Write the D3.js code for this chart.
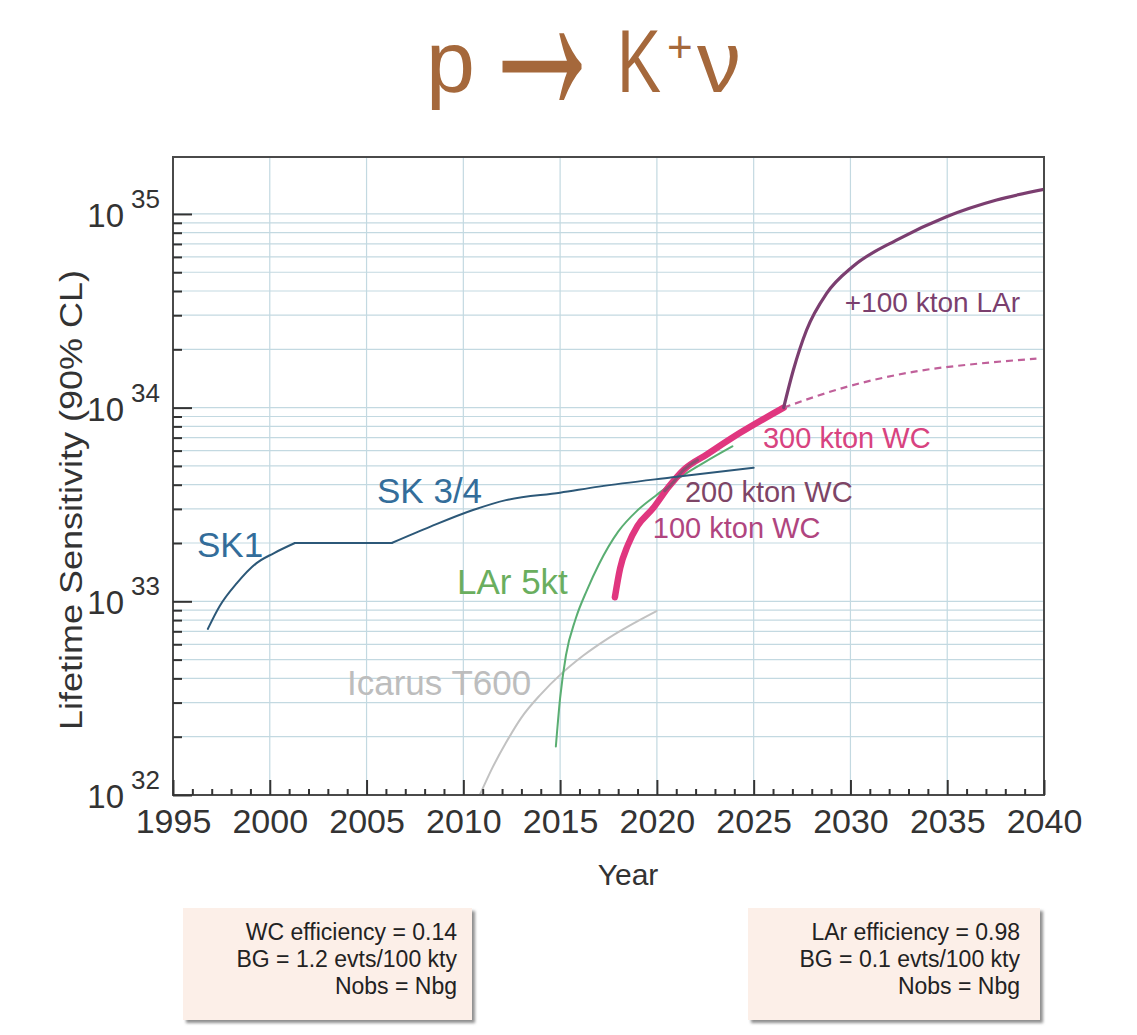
<!DOCTYPE html>
<html><head><meta charset="utf-8">
<script src="https://cdn.jsdelivr.net/npm/d3@7"></script>
<style>body{margin:0;background:#fff}</style>
</head><body>
<svg id="c" width="1137" height="1035"></svg>
<script>
// ---------------- DATA ----------------
const sk1Years   = [1996.8, 1997.4, 1998.3, 1999.3, 2000.2, 2001.3];
const sk1Values  = [7.2e32, 9.4e32, 1.24e33, 1.57e33, 1.77e33, 2.0e33];
const skFlatYears  = [2001.3, 2006.3];
const skFlatValues = [2.0e33, 2.0e33];
const sk34Years  = [2006.3, 2008.3, 2010.5, 2012.2, 2015.0, 2017.0, 2020.8, 2025.0];
const sk34Values = [2.0e33, 2.43e33, 2.96e33, 3.33e33, 3.64e33, 3.91e33, 4.37e33, 4.90e33];

const lar5Years  = [2014.78, 2015.0, 2015.3, 2015.8, 2016.4, 2017.0, 2018.0, 2019.0, 2020.0, 2021.2, 2022.5, 2023.9];
const lar5Values = [1.78e32, 3.16e32, 5.25e32, 8.1e32, 1.15e33, 1.55e33, 2.29e33, 2.95e33, 3.55e33, 4.37e33, 5.25e33, 6.31e33];

const icarusYears  = [2010.85, 2011.5, 2012.2, 2013.0, 2014.0, 2015.0, 2016.2, 2017.5, 2019.98];
const icarusValues = [1.0e32, 1.38e32, 1.86e32, 2.51e32, 3.31e32, 4.17e32, 5.25e32, 6.46e32, 8.91e32];

const wcYears  = [2017.83, 2018.1, 2018.5, 2019.0, 2019.8, 2020.6, 2021.4, 2022.6, 2024.3, 2026.55];
const wcValues = [1.05e33, 1.48e33, 1.95e33, 2.45e33, 3.02e33, 3.89e33, 4.79e33, 5.75e33, 7.41e33, 1.0e34];

const wc200Years  = [2020.4, 2020.8, 2021.4, 2022.1];
const wc200Values = [3.72e33, 4.07e33, 4.79e33, 5.37e33];

const lar100Years  = [2026.55, 2027.04, 2027.73, 2028.77, 2030.14, 2032.38, 2034.96, 2037.55, 2040.0];
const lar100Values = [1.0e34, 1.55e34, 2.51e34, 3.89e34, 5.37e34, 7.33e34, 9.68e34, 1.18e35, 1.34e35];

const wcOnlyYears  = [2026.55, 2029.8, 2033.24, 2036.68, 2039.61];
const wcOnlyValues = [1.0e34, 1.28e34, 1.53e34, 1.69e34, 1.79e34];

const xTickYears = [1995, 2000, 2005, 2010, 2015, 2020, 2025, 2030, 2035, 2040];
const yDecades   = [32, 33, 34, 35];

const labelText  = ["SK1", "SK 3/4", "LAr 5kt", "Icarus T600", "300 kton WC", "200 kton WC", "100 kton WC", "+100 kton LAr"];
const labelYear  = [1996.24, 2005.54, 2009.67, 2003.99, 2025.48, 2021.45, 2019.79, 2029.71];
const labelValue = [1.69e33, 3.21e33, 1.09e33, 3.28e32, 6.18e33, 3.26e33, 2.12e33, 3.12e34];

const boxLeftLines  = ["WC efficiency = 0.14", "BG = 1.2 evts/100 kty", "Nobs = Nbg"];
const boxRightLines = ["LAr efficiency = 0.98", "BG = 0.1 evts/100 kty", "Nobs = Nbg"];

// ---------------- LAYOUT ----------------
const FONT = "'Liberation Sans', Arial, Helvetica, sans-serif";
const svg = d3.select("#c");
const L = 173, R = 1044, T = 157, B = 795;
const x = d3.scaleLinear().domain([1995, 2040]).range([L, R]);
const y = d3.scaleLog().domain([1e32, Math.pow(10, 35.294)]).range([B, T]);

const defs = svg.append("defs");
defs.append("clipPath").attr("id", "clip")
  .append("rect").attr("x", L).attr("y", T).attr("width", R - L).attr("height", B - T);
defs.append("filter").attr("id", "sh").attr("x", "-10%").attr("y", "-10%").attr("width", "130%").attr("height", "130%")
  .append("feGaussianBlur").attr("stdDeviation", 1.6);

// Title
const tcol = "#a5683b";
const title = svg.append("g").attr("fill", tcol).attr("font-family", FONT);
title.append("text").attr("x", 426).attr("y", 92).attr("font-size", 88).text("p");
// arrow glyph is symmetric about its shaft: drawn mirrored so its line box hangs downward
title.append("text").attr("transform", "translate(542,63) scale(0.89,-1.9)").attr("y", 23)
  .attr("font-size", 150).attr("text-anchor", "middle").text("→");
title.append("text").attr("transform", "translate(617,92) scale(0.75,1)").attr("font-size", 88).text("K");
title.append("text").attr("x", 667).attr("y", 62).attr("font-size", 44).text("+");
title.append("text").attr("x", 697).attr("y", 92).attr("font-size", 88).text("ν");

// Grid
const gridVals = [];
for (let e = 32; e <= 34; e++) for (let k = 1; k <= 9; k++) gridVals.push(k * Math.pow(10, e));
gridVals.push(1e35);
const grid = svg.append("g");
grid.selectAll("line.h").data(gridVals.filter(v => v > 1e32)).join("line")
  .attr("x1", L).attr("x2", R).attr("y1", d => y(d)).attr("y2", d => y(d))
  .attr("stroke", "#c3d9e1").attr("stroke-width", 1.2);
grid.selectAll("line.v").data(xTickYears.filter(v => v > 1995 && v < 2040)).join("line")
  .attr("y1", T).attr("y2", B).attr("x1", d => x(d)).attr("x2", d => x(d))
  .attr("stroke", "#c3d9e1").attr("stroke-width", 1.2);

// Curves
const line = d3.line().x(d => x(d[0])).y(d => y(d[1])).curve(d3.curveMonotoneX);
const zip = (a, b) => a.map((v, i) => [v, b[i]]);
const curves = svg.append("g").attr("clip-path", "url(#clip)").attr("fill", "none").attr("stroke-linecap", "round").attr("stroke-linejoin", "round");
curves.append("path").attr("d", line(zip(icarusYears, icarusValues))).attr("stroke", "#c2c2c2").attr("stroke-width", 2);
curves.append("path").attr("d", line(zip(lar5Years, lar5Values))).attr("stroke", "#5aae72").attr("stroke-width", 2);
curves.append("path").attr("d", line(zip(wcYears, wcValues))).attr("stroke", "#e0367f").attr("stroke-width", 6.5);
curves.append("path").attr("d", line(zip(wc200Years, wc200Values))).attr("stroke", "#84506f").attr("stroke-width", 3).attr("opacity", 0.85);
[[sk1Years, sk1Values], [skFlatYears, skFlatValues], [sk34Years, sk34Values]].forEach(([a, b]) =>
  curves.append("path").attr("d", line(zip(a, b))).attr("stroke", "#2c5878").attr("stroke-width", 2));
curves.append("path").attr("d", line(zip(wcOnlyYears, wcOnlyValues))).attr("stroke", "#c0609a").attr("stroke-width", 2.2).attr("stroke-dasharray", "7 5").attr("stroke-linecap", "butt");
curves.append("path").attr("d", line(zip(lar100Years, lar100Values))).attr("stroke", "#7b3e70").attr("stroke-width", 3.2);

// Curve labels
const labelStyle = [
  {c: "#336d9a", s: 35}, {c: "#336d9a", s: 35}, {c: "#6aae5e", s: 35}, {c: "#bdbdbd", s: 35},
  {c: "#d8437f", s: 29}, {c: "#7e4566", s: 29}, {c: "#b0457f", s: 29}, {c: "#7a3f6e", s: 28}
];
svg.append("g").attr("font-family", FONT).selectAll("text").data(labelText).join("text")
  .attr("x", (d, i) => x(labelYear[i])).attr("y", (d, i) => y(labelValue[i]))
  .attr("fill", (d, i) => labelStyle[i].c).attr("font-size", (d, i) => labelStyle[i].s)
  .text(d => d);

// Frame
svg.append("rect").attr("x", L).attr("y", T).attr("width", R - L).attr("height", B - T)
  .attr("fill", "none").attr("stroke", "#4a4a4a").attr("stroke-width", 2);

// Y ticks (inward)
const yMinor = gridVals.filter(v => { const k = Math.round(v / Math.pow(10, Math.floor(Math.log10(v) + 1e-9))); return k !== 1; });
const yMajor = yDecades.map(e => Math.pow(10, e));
svg.append("g").attr("transform", `translate(${L},0)`).call(d3.axisLeft(y).tickValues(yMinor).tickSize(-9).tickFormat(""))
  .call(g => g.select(".domain").remove()).call(g => g.selectAll("line").attr("stroke", "#333").attr("stroke-width", 2));
svg.append("g").attr("transform", `translate(${L},0)`).call(d3.axisLeft(y).tickValues(yMajor).tickSize(-19).tickFormat(""))
  .call(g => g.select(".domain").remove()).call(g => g.selectAll("line").attr("stroke", "#333").attr("stroke-width", 2));

// Y tick labels 10^n
const yl = svg.append("g").attr("font-family", FONT).attr("fill", "#333");
yl.selectAll("text.b").data(yDecades).join("text").attr("x", 124).attr("y", d => y(Math.pow(10, d)) + 13)
  .attr("text-anchor", "end").attr("font-size", 33).text("10");
yl.selectAll("text.s").data(yDecades).join("text").attr("x", 131).attr("y", d => y(Math.pow(10, d)) - 6)
  .attr("font-size", 26).text(d => d);

// X ticks
const xMinor = d3.range(1996, 2040).filter(v => v % 5 !== 0);
svg.append("g").attr("transform", `translate(0,${B})`).call(d3.axisBottom(x).tickValues(xMinor).tickSize(-6).tickFormat(""))
  .call(g => g.select(".domain").remove()).call(g => g.selectAll("line").attr("stroke", "#333").attr("stroke-width", 2));
const xa = svg.append("g").attr("transform", `translate(0,${B})`)
  .call(d3.axisBottom(x).tickValues(xTickYears).tickSize(-15).tickPadding(14).tickFormat(d3.format("d")))
  .call(g => g.select(".domain").remove());
xa.selectAll("line").attr("stroke", "#333").attr("stroke-width", 2);
xa.selectAll("text").attr("font-family", FONT).attr("font-size", 34).attr("fill", "#333");

// Axis titles
svg.append("text").attr("x", 628).attr("y", 885).attr("text-anchor", "middle").attr("font-family", FONT)
  .attr("font-size", 30).attr("fill", "#333").text("Year");
svg.append("text").attr("transform", "translate(82,500) rotate(-90)").attr("text-anchor", "middle")
  .attr("font-family", FONT).attr("font-size", 31).attr("fill", "#333")
  .attr("textLength", 460).attr("lengthAdjust", "spacingAndGlyphs").text("Lifetime Sensitivity (90% CL)");

// Info boxes
function box(x0, w, lines, xr) {
  const g = svg.append("g");
  g.append("rect").attr("x", x0 + 3).attr("y", 911).attr("width", w).attr("height", 112).attr("fill", "#8f8f8f").attr("filter", "url(#sh)");
  g.append("rect").attr("x", x0).attr("y", 908).attr("width", w).attr("height", 112).attr("fill", "#fcefe8");
  g.selectAll("text").data(lines).join("text").attr("x", xr).attr("y", (d, i) => 940 + i * 27)
    .attr("text-anchor", "end").attr("font-family", FONT).attr("font-size", 23).attr("fill", "#222").text(d => d);
}
box(183, 289, boxLeftLines, 457);
box(748, 292, boxRightLines, 1020);
</script>
</body></html>
